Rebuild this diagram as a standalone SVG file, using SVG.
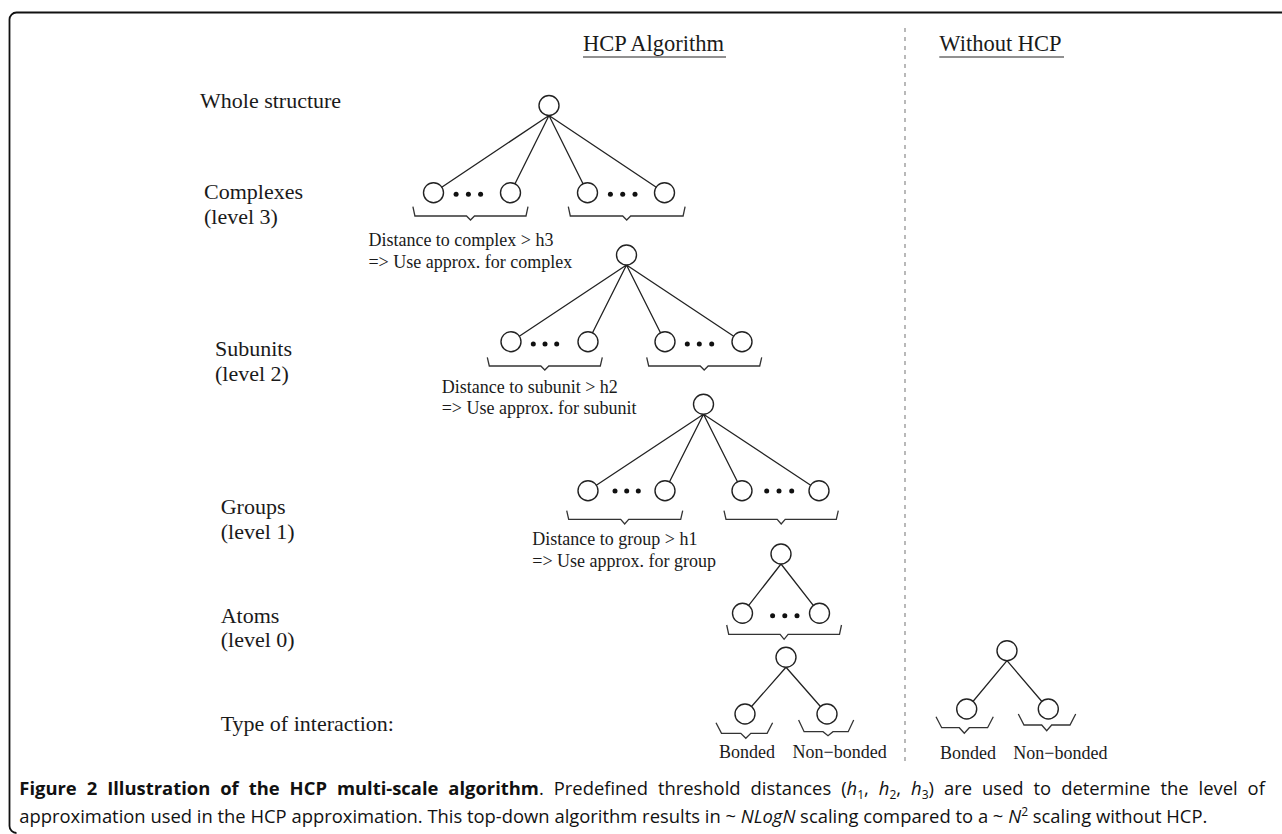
<svg xmlns="http://www.w3.org/2000/svg" width="1282" height="834" viewBox="0 0 1282 834">
<style>
.lbl{font-family:"Liberation Serif","Times New Roman",serif;font-size:22px;fill:#1a1a1a}
.hdr{font-family:"Liberation Serif","Times New Roman",serif;font-size:22.5px;fill:#1a1a1a}
.note{font-family:"Liberation Serif","Times New Roman",serif;font-size:18px;fill:#1a1a1a}
.cap{font-family:"Open Sans","Noto Sans","DejaVu Sans",sans-serif;font-size:18.4px;fill:#111}
.node{fill:#fff;stroke:#222;stroke-width:1.4}
.dot{fill:#111}
.edge{stroke:#222;stroke-width:1.3;fill:none}
.brace{stroke:#333;stroke-width:1.3;fill:none;stroke-linejoin:miter}
.ul{stroke:#222;stroke-width:1.2}
</style>
<!-- frame -->
<path d="M1282,12.5 H16.5 A7,7 0 0 0 9.5,19.5 V826 A7,7 0 0 0 16.5,833" fill="none" stroke="#111" stroke-width="1.8"/>
<!-- headers -->
<g id="header-hcp"><text class="hdr" x="583" y="50.7">HCP Algorithm</text><line class="ul" x1="583" y1="57" x2="726" y2="57"/></g>
<g id="header-without"><text class="hdr" x="939.3" y="50.7">Without HCP</text><line class="ul" x1="939.3" y1="57" x2="1064" y2="57"/></g>
<line id="divider" x1="905" y1="28" x2="905" y2="764" stroke="#8a8a8a" stroke-width="1.2" stroke-dasharray="4 5"/>
<!-- level labels -->
<g id="labels">
<text class="lbl" x="200" y="108">Whole structure</text>
<text class="lbl" x="204" y="199">Complexes</text>
<text class="lbl" x="204" y="223.5">(level 3)</text>
<text class="lbl" x="215" y="356">Subunits</text>
<text class="lbl" x="215" y="380.5">(level 2)</text>
<text class="lbl" x="220.7" y="514.3">Groups</text>
<text class="lbl" x="220.7" y="538.7">(level 1)</text>
<text class="lbl" x="220.7" y="622.7">Atoms</text>
<text class="lbl" x="220.7" y="647">(level 0)</text>
<text class="lbl" x="220.7" y="730.7">Type of interaction:</text>
</g>
<!-- connectors -->
<g id="connectors">
<path class="edge" d="M549,115.5 L433.5,192.7 M549,115.5 L510.5,192.7 M549,115.5 L587.5,192.7 M549,115.5 L664.5,192.7"/>
<path class="edge" d="M626.5,265 L511,341.7 M626.5,265 L588,341.7 M626.5,265 L665,341.7 M626.5,265 L742,341.7"/>
<path class="edge" d="M703.5,414.3 L588,490.7 M703.5,414.3 L665,490.7 M703.5,414.3 L742,490.7 M703.5,414.3 L819,490.7"/>
<path class="edge" d="M781,564 L742.5,613.3 M781,564 L819.5,613.3"/>
<path class="edge" d="M786,667.3 L745,714 M786,667.3 L827,714"/>
<path class="edge" d="M1007,660.7 L966.7,709 M1007,660.7 L1048.3,709"/>
<!-- braces -->
<path class="brace" d="M412.9,206.7 L414.9,216 L466.5,216 L470.5,220 L474.5,216 L526,216 L528,206.7"/>
<path class="brace" d="M568.3,206.7 L570.3,216 L622.7,216 L626.7,220 L630.7,216 L683.1,216 L685.1,206.7"/>
<path class="brace" d="M487.3,357.3 L489.3,366 L540.8,366 L544.8,370 L548.8,366 L600.3,366 L602.3,357.3"/>
<path class="brace" d="M646.7,357.3 L648.7,366 L700.2,366 L704.2,370 L708.2,366 L759.7,366 L761.7,357.3"/>
<path class="brace" d="M566.7,510.7 L568.7,519.3 L620.7,519.3 L624.7,524 L628.7,519.3 L680.7,519.3 L682.7,510.7"/>
<path class="brace" d="M724,510.7 L726,519.3 L777.2,519.3 L781.2,524 L785.2,519.3 L836.3,519.3 L838.3,510.7"/>
<path class="brace" d="M726.7,625 L728.7,634.3 L780.1,634.3 L784.1,639.3 L788.1,634.3 L839.5,634.3 L841.5,625"/>
<path class="brace" d="M716,722.7 L721.5,733.3 L740.8,733.3 L745.8,738.3 L750.8,733.3 L767.1,733.3 L772.6,722.7"/>
<path class="brace" d="M798.6,720 L804.1,731.7 L823,731.7 L828,735.7 L833,731.7 L848.2,731.7 L853.7,720"/>
<path class="brace" d="M936,716.7 L941.7,727.7 L959.3,727.7 L964.3,733.3 L969.3,727.7 L987.6,727.7 L993.3,716.7"/>
<path class="brace" d="M1018.3,714 L1024,725 L1041.7,725 L1046.7,730.7 L1051.7,725 L1070,725 L1075.7,714"/>
</g>
<!-- nodes -->
<g id="root-whole"><circle class="node" cx="549" cy="105.5" r="10"/></g>
<g id="complexes">
<circle class="node" cx="433.5" cy="192.7" r="10"/><circle class="node" cx="510.5" cy="192.7" r="10"/>
<circle class="node" cx="587.5" cy="192.7" r="10"/><circle class="node" cx="664.5" cy="192.7" r="10"/>
<circle class="dot" cx="456.1" cy="194.3" r="2.5"/><circle class="dot" cx="468.4" cy="194.3" r="2.5"/><circle class="dot" cx="480.6" cy="194.3" r="2.5"/>
<circle class="dot" cx="610.4" cy="194.3" r="2.5"/><circle class="dot" cx="622.7" cy="194.3" r="2.5"/><circle class="dot" cx="635" cy="194.3" r="2.5"/>
</g>
<g id="note-complex"><text class="note" x="368.4" y="246">Distance to complex &gt; h3</text><text class="note" x="368.4" y="267.7">=&gt; Use approx. for complex</text></g>
<g id="root-subunit"><circle class="node" cx="626.5" cy="255" r="10"/></g>
<g id="subunits">
<circle class="node" cx="511" cy="341.7" r="10"/><circle class="node" cx="588" cy="341.7" r="10"/>
<circle class="node" cx="665" cy="341.7" r="10"/><circle class="node" cx="742" cy="341.7" r="10"/>
<circle class="dot" cx="533.3" cy="344" r="2.5"/><circle class="dot" cx="545" cy="344" r="2.5"/><circle class="dot" cx="556.7" cy="344" r="2.5"/>
<circle class="dot" cx="687.3" cy="344" r="2.5"/><circle class="dot" cx="699.3" cy="344" r="2.5"/><circle class="dot" cx="711.7" cy="344" r="2.5"/>
</g>
<g id="note-subunit"><text class="note" x="441.7" y="392.7">Distance to subunit &gt; h2</text><text class="note" x="441.7" y="414">=&gt; Use approx. for subunit</text></g>
<g id="root-group"><circle class="node" cx="703.5" cy="404.3" r="10"/></g>
<g id="groups">
<circle class="node" cx="588" cy="490.7" r="10"/><circle class="node" cx="665" cy="490.7" r="10"/>
<circle class="node" cx="742" cy="490.7" r="10"/><circle class="node" cx="819" cy="490.7" r="10"/>
<circle class="dot" cx="615" cy="491" r="2.5"/><circle class="dot" cx="626.7" cy="491" r="2.5"/><circle class="dot" cx="638.3" cy="491" r="2.5"/>
<circle class="dot" cx="766.7" cy="491" r="2.5"/><circle class="dot" cx="779" cy="491" r="2.5"/><circle class="dot" cx="791.7" cy="491" r="2.5"/>
</g>
<g id="note-group"><text class="note" x="532.3" y="545">Distance to group &gt; h1</text><text class="note" x="532.3" y="566.7">=&gt; Use approx. for group</text></g>
<g id="root-atom"><circle class="node" cx="781" cy="554" r="10"/></g>
<g id="atoms">
<circle class="node" cx="742.5" cy="613.3" r="10"/><circle class="node" cx="819.5" cy="613.3" r="10"/>
<circle class="dot" cx="772.6" cy="615.7" r="2.5"/><circle class="dot" cx="784.8" cy="615.7" r="2.5"/><circle class="dot" cx="797" cy="615.7" r="2.5"/>
</g>
<g id="interaction-hcp">
<circle class="node" cx="786" cy="657.3" r="10"/>
<circle class="node" cx="745" cy="714" r="10"/><circle class="node" cx="827" cy="714" r="10"/>
<text class="note" x="719" y="758.3">Bonded</text><text class="note" x="792.5" y="758.3">Non−bonded</text>
</g>
<g id="interaction-without">
<circle class="node" cx="1007" cy="650.7" r="10"/>
<circle class="node" cx="966.7" cy="709" r="10"/><circle class="node" cx="1048.3" cy="709" r="10"/>
<text class="note" x="940" y="759">Bonded</text><text class="note" x="1013.3" y="759">Non−bonded</text>
</g>
<!-- caption -->
<g id="caption">
<text class="cap" x="19.3" y="795.3" word-spacing="5.2"><tspan font-weight="bold">Figure 2 Illustration of the HCP multi-scale algorithm</tspan>. Predefined threshold distances (<tspan font-style="italic">h</tspan><tspan font-size="12" dy="4">1</tspan><tspan dy="-4">, </tspan><tspan font-style="italic">h</tspan><tspan font-size="12" dy="4">2</tspan><tspan dy="-4">, </tspan><tspan font-style="italic">h</tspan><tspan font-size="12" dy="4">3</tspan><tspan dy="-4">) are used to determine the level of</tspan></text>
<text class="cap" x="19.3" y="822.7">approximation used in the HCP approximation. This top-down algorithm results in ~ <tspan font-style="italic">NLogN</tspan> scaling compared to a ~ <tspan font-style="italic">N</tspan><tspan font-size="12" dy="-7">2</tspan><tspan dy="7"> scaling without HCP.</tspan></text>
</g>
</svg>
